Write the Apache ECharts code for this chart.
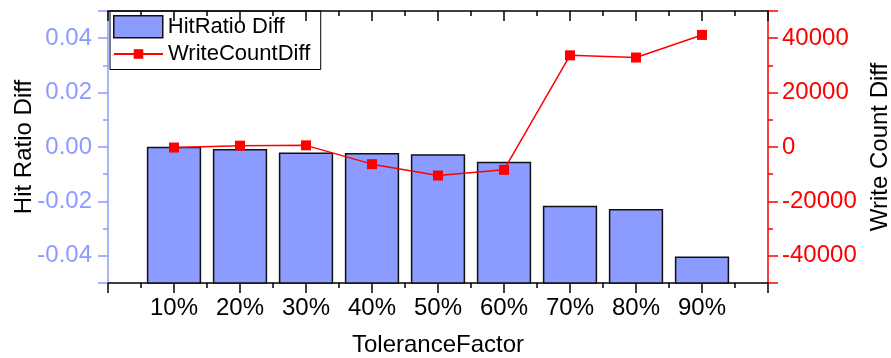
<!DOCTYPE html>
<html>
<head>
<meta charset="utf-8">
<script src="https://cdn.jsdelivr.net/npm/echarts@6/dist/echarts.min.js"></script>
<style>
  html, body { margin: 0; padding: 0; background: #fff; }
  #chart { width: 891px; height: 358px; }
</style>
</head>
<body>
<div id="chart"></div>
<script>
// Tolerance factor categories and the two measured differences
const categories = ['10%', '20%', '30%', '40%', '50%', '60%', '70%', '80%', '90%'];
const hitRatioDiff = [-0.0002, -0.001, -0.0023, -0.0025, -0.0029, -0.0057, -0.0219, -0.0231, -0.0405];
const writeCountDiff = [-200, 500, 600, -6300, -10500, -8400, 33700, 32900, 41200];
const hitRange = [-0.05, 0.05];
const writeRange = [-50000, 50000];

const BLUE = '#8C9BFF';
const RED = '#FF0000';
const FONT = '"Liberation Sans", Arial, sans-serif';

// categories sit at x = 1..n on a 0..n+1 value axis
const pos = categories.map((c, i) => i + 1);
const barData = pos.map((x, i) => [x, hitRatioDiff[i]]);
const lineData = pos.map((x, i) => [x, writeCountDiff[i]]);

const chart = echarts.init(document.getElementById('chart'), null, { renderer: 'canvas' });

const tickStyle = (color) => ({ color: color, width: 1.5 });

chart.setOption({
  animation: false,
  backgroundColor: '#fff',
  grid: { left: 108, right: 123, top: 11, bottom: 75, containLabel: false, outerBoundsMode: 'none' },
  legend: [
    {
      data: [{ name: 'HitRatio Diff', icon: 'rect', itemStyle: { color: BLUE, borderColor: '#111', borderWidth: 1.5 } }],
      left: 110, top: 11, orient: 'vertical',
      itemWidth: 49, itemHeight: 22,
      padding: [4, 36, 31, 3],
      borderColor: '#000', borderWidth: 1, backgroundColor: '#fff',
      textStyle: { fontSize: 22, color: '#000', fontFamily: FONT },
      selectedMode: false, z: 4
    },
    {
      data: [{ name: 'WriteCountDiff' }],
      left: 113, top: 43, orient: 'vertical',
      itemWidth: 49, itemHeight: 12,
      padding: 0,
      textStyle: { fontSize: 22, color: '#000', fontFamily: FONT },
      selectedMode: false, z: 4
    }
  ],
  xAxis: [
    {
      type: 'value', position: 'bottom',
      min: 0, max: categories.length + 1, interval: 1,
      name: 'ToleranceFactor', nameLocation: 'middle', nameGap: 50, nameMoveOverlap: false,
      nameTextStyle: { fontSize: 24, color: '#000', fontFamily: FONT },
      axisLine: { show: true, onZero: false, lineStyle: tickStyle('#000') },
      axisTick: { show: true, length: 10, lineStyle: tickStyle('#000') },
      minorTick: { show: true, splitNumber: 2, length: 5, lineStyle: tickStyle('#000') },
      axisLabel: {
        formatter: (v) => categories[v - 1] || '',
        fontSize: 24, color: '#000', margin: 13, fontFamily: FONT
      },
      splitLine: { show: false }, minorSplitLine: { show: false }
    },
    {
      type: 'value', position: 'top',
      min: 0, max: categories.length + 1, interval: 1,
      axisLine: { show: true, onZero: false, lineStyle: tickStyle('#000') },
      axisTick: { show: true, inside: true, length: 10, lineStyle: tickStyle('#000') },
      minorTick: { show: true, splitNumber: 2, length: 5, lineStyle: tickStyle('#000') },
      axisLabel: { show: false },
      splitLine: { show: false }, minorSplitLine: { show: false },
      z: 5
    }
  ],
  yAxis: [
    {
      type: 'value', position: 'left',
      min: hitRange[0], max: hitRange[1], splitNumber: 5,
      name: 'Hit Ratio Diff', nameLocation: 'middle', nameGap: 72, nameRotate: 90, nameMoveOverlap: false,
      nameTextStyle: { fontSize: 24, color: '#000', fontFamily: FONT },
      axisLine: { show: true, onZero: false, lineStyle: tickStyle(BLUE) },
      axisTick: { show: true, length: 10, lineStyle: tickStyle(BLUE) },
      minorTick: { show: true, splitNumber: 2, length: 5, lineStyle: tickStyle(BLUE) },
      axisLabel: {
        showMinLabel: false, showMaxLabel: false,
        formatter: (v) => v.toFixed(2),
        fontSize: 24, color: BLUE, margin: 16, fontFamily: FONT
      },
      splitLine: { show: false }, minorSplitLine: { show: false }
    },
    {
      type: 'value', position: 'right',
      min: writeRange[0], max: writeRange[1], splitNumber: 5,
      name: 'Write Count Diff', nameLocation: 'middle', nameGap: 100, nameRotate: 90, nameMoveOverlap: false,
      nameTextStyle: { fontSize: 24, color: '#000', fontFamily: FONT },
      axisLine: { show: true, onZero: false, lineStyle: tickStyle(RED) },
      axisTick: { show: true, length: 10, lineStyle: tickStyle(RED) },
      minorTick: { show: true, splitNumber: 2, length: 5, lineStyle: tickStyle(RED) },
      axisLabel: {
        showMinLabel: false, showMaxLabel: false,
        formatter: (v) => String(v),
        fontSize: 24, color: RED, margin: 14, fontFamily: FONT
      },
      splitLine: { show: false }, minorSplitLine: { show: false }
    }
  ],
  series: [
    {
      // bars rise from the bottom of the hit-ratio axis
      name: 'HitRatio Diff', type: 'custom',
      xAxisIndex: 0, yAxisIndex: 0,
      data: barData,
      itemStyle: { color: BLUE, borderColor: '#111', borderWidth: 1.5 },
      renderItem: (params, api) => {
        const x = api.value(0);
        const v = api.value(1);
        const top = api.coord([x, v]);
        const base = api.coord([x, hitRange[0]]);
        const w = api.size([0.8, 0])[0];
        return {
          type: 'rect',
          shape: { x: top[0] - w / 2, y: top[1], width: w, height: base[1] - top[1] },
          style: { fill: BLUE, stroke: '#111', lineWidth: 1.5 }
        };
      },
      z: 2
    },
    {
      name: 'WriteCountDiff', type: 'line',
      xAxisIndex: 0, yAxisIndex: 1,
      data: lineData,
      symbol: 'rect', symbolSize: 10,
      lineStyle: { color: RED, width: 1.5 },
      itemStyle: { color: RED },
      z: 3
    }
  ]
});
</script>
</body>
</html>
